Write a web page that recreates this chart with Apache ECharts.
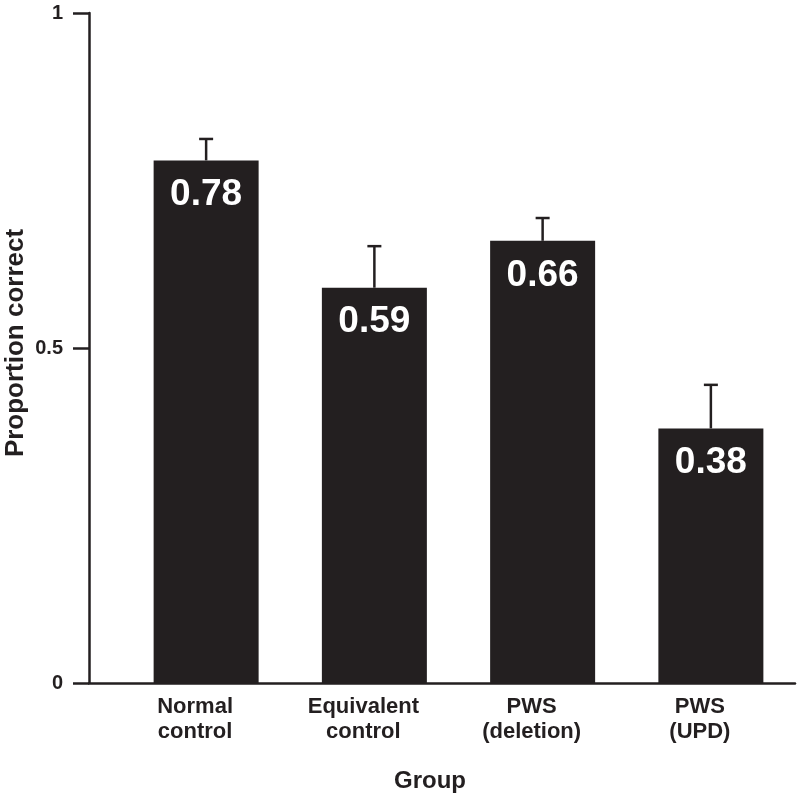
<!DOCTYPE html>
<html>
<head>
<meta charset="utf-8">
<script src="https://cdn.jsdelivr.net/npm/echarts@6/dist/echarts.min.js"></script>
<style>
html,body{margin:0;padding:0;background:#fff;}
#chart{width:800px;height:796px;}
</style>
</head>
<body>
<div id="chart"></div>
<script>
var categories = ['Normal\ncontrol', 'Equivalent\ncontrol', 'PWS\n(deletion)', 'PWS\n(UPD)'];
var means = [0.78, 0.59, 0.66, 0.38];
var errorTops = [0.812, 0.652, 0.694, 0.445];
var yTicks = [0, 0.5, 1];
var yTitle = 'Proportion correct';
var xTitle = 'Group';

var INK = '#231f20';
var FONT = '"Liberation Sans", Arial, Helvetica, sans-serif';

var chart = echarts.init(document.getElementById('chart'), null, {renderer: 'canvas'});

var errData = categories.map(function (c, i) { return [i, means[i], errorTops[i]]; });

var option = {
  backgroundColor: '#ffffff',
  animation: false,
  grid: [
    {left: 89, right: 5, top: 13, bottom: 113, containLabel: false, outerBoundsMode: 'none'},
    {left: 122, right: 5, top: 13, bottom: 113, containLabel: false, outerBoundsMode: 'none'}
  ],
  graphic: [
    {
      type: 'text', x: 16, y: 343, rotation: Math.PI / 2,
      style: {
        text: yTitle, fill: INK, font: 'bold 26px ' + FONT,
        textAlign: 'center', textVerticalAlign: 'middle'
      }
    }
  ],
  xAxis: [
    {
      gridIndex: 0, type: 'value', min: 0, max: 1,
      axisLine: {show: true, onZero: false, lineStyle: {color: INK, width: 2.5}},
      axisTick: {show: false}, axisLabel: {show: false}, splitLine: {show: false},
      name: xTitle, nameLocation: 'middle', nameGap: 86,
      nameTextStyle: {fontFamily: FONT, fontSize: 24, fontWeight: 'bold', color: INK, padding: [0, 24, 0, 0]}
    },
    {
      gridIndex: 1, type: 'category', data: categories,
      axisLine: {show: false}, axisTick: {show: false},
      axisLabel: {
        fontFamily: FONT, fontSize: 22, fontWeight: 'bold', color: INK,
        lineHeight: 25, margin: 11, interval: 0, padding: [0, 22, 0, 0]
      }
    }
  ],
  yAxis: [
    {
      gridIndex: 0, type: 'value', min: 0, max: 1, interval: 0.5,
      axisLine: {show: true, lineStyle: {color: INK, width: 2.5}},
      axisTick: {show: true, length: 16, lineStyle: {color: INK, width: 2.5}},
      axisLabel: {
        fontFamily: FONT, fontSize: 20, fontWeight: 'bold', color: INK, margin: 26,
        formatter: function (v) { return yTicks.indexOf(v) >= 0 ? String(v) : ''; }
      },
      splitLine: {show: false}
    },
    {
      gridIndex: 1, type: 'value', min: 0, max: 1, show: false
    }
  ],
  series: [
    {
      type: 'bar', xAxisIndex: 1, yAxisIndex: 1,
      data: means, barWidth: 105,
      itemStyle: {color: INK},
      label: {
        show: true, position: 'insideTop', distance: 16,
        color: '#ffffff', fontFamily: FONT, fontSize: 37, fontWeight: 'bold',
        formatter: function (p) { return p.value.toFixed(2); }
      },
      z: 2
    },
    {
      type: 'custom', xAxisIndex: 1, yAxisIndex: 1,
      data: errData,
      encode: {x: 0, y: [1, 2]},
      renderItem: function (params, api) {
        var base = api.coord([api.value(0), api.value(1)]);
        var top = api.coord([api.value(0), api.value(2)]);
        var hw = 7;
        return {
          type: 'group',
          children: [
            {type: 'line', shape: {x1: base[0], y1: base[1], x2: top[0], y2: top[1]},
             style: {stroke: INK, lineWidth: 2.5}},
            {type: 'line', shape: {x1: top[0] - hw, y1: top[1], x2: top[0] + hw, y2: top[1]},
             style: {stroke: INK, lineWidth: 2.5}}
          ]
        };
      },
      z: 1
    }
  ]
};
chart.setOption(option);
</script>
</body>
</html>
